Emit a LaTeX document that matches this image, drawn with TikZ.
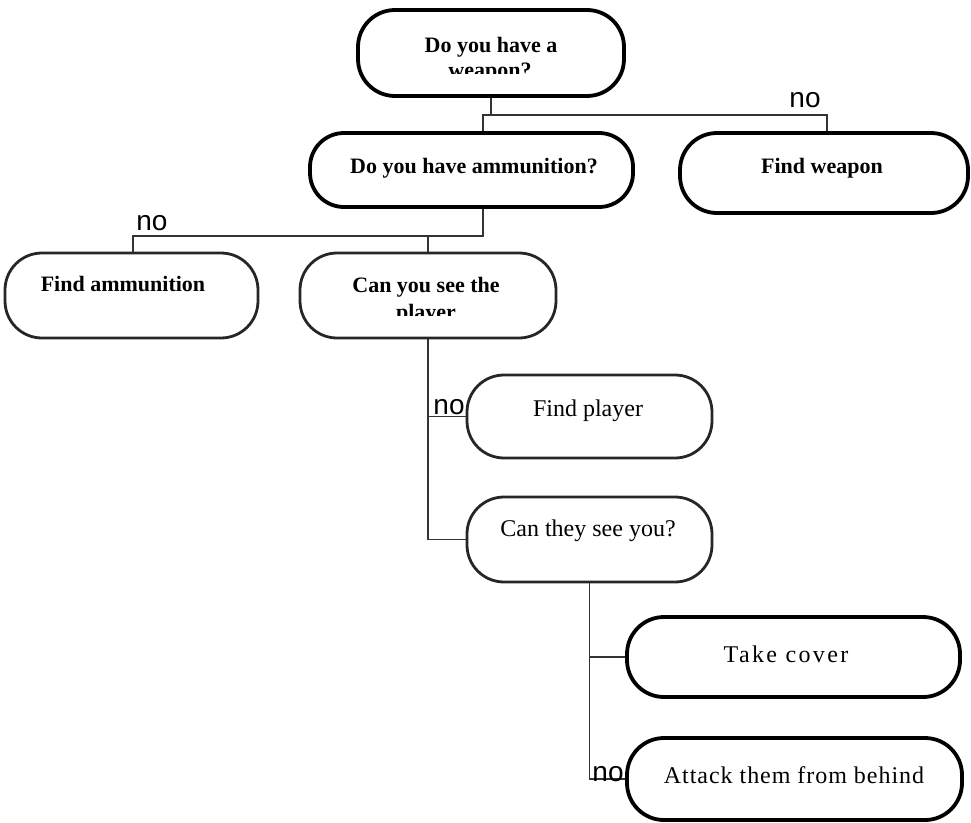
\documentclass[tikz,border=0pt]{standalone}
\usepackage{fontspec}
\setmainfont{Liberation Serif}
\newfontfamily\labelfont{Liberation Sans}
\begin{document}
\begin{tikzpicture}[x=1pt,y=-1pt,
  box/.style={draw=black, line width=3.8pt, rounded corners=#1, inner sep=0pt},
  box/.default=37pt,
  thinbox/.style={box=#1, draw=black!85, line width=2.8pt},
  thinbox/.default=37pt,
  link/.style={draw=black!80, line width=1.3pt},
  qtext/.style={font=\bfseries\fontsize{22}{25}\selectfont, anchor=base, inner sep=0pt},
  atext/.style={font=\fontsize{24}{28}\selectfont, anchor=base, inner sep=0pt},
  nolabel/.style={font=\labelfont\fontsize{28}{30}\selectfont, anchor=base, inner sep=0pt},
]
\useasboundingbox (0,0) rectangle (971,822);

% decision and action boxes
\node[box, minimum width=266pt, minimum height=86pt] (n1) at (491,53) {};
\node[box=34pt, minimum width=323pt, minimum height=74pt] (n2) at (471.5,170) {};
\node[box, minimum width=288pt, minimum height=80pt] (n3) at (824,173) {};
\node[thinbox, minimum width=253pt, minimum height=85pt] (n4) at (131.5,295.5) {};
\node[thinbox, minimum width=256pt, minimum height=85pt] (n5) at (428,295.5) {};
\node[thinbox, minimum width=245pt, minimum height=83pt] (n6) at (589.5,416.5) {};
\node[thinbox, minimum width=245pt, minimum height=85pt] (n7) at (589.5,539.5) {};
\node[box, minimum width=333pt, minimum height=80pt] (n8) at (793.5,657) {};
\node[box, minimum width=335pt, minimum height=82pt] (n9) at (794.5,779) {};

% box texts
\node[qtext] (t1a) at (491,52) {Do you have a};
\begin{scope}
  \clip (400,58) rectangle (580,73);
  \node[qtext] (t1b) at (490,77) {weapon?};
\end{scope}
\node[qtext] (t2) at (474,173) {Do you have ammunition?};
\node[qtext] (t3) at (822,173) {Find weapon};
\node[qtext] (t4) at (123,291) {Find ammunition};
\node[qtext] (t5a) at (426,292) {Can you see the};
\begin{scope}
  \clip (350,298) rectangle (500,315);
  \node[qtext] (t5b) at (426,319) {player};
\end{scope}
\node[atext] (t6) at (588,416) {Find player};
\node[atext] (t7) at (588,536) {Can they see you?};
\node[atext, font=\fontsize{24}{28}\selectfont\addfontfeature{LetterSpace=10}] (t8) at (786,662) {Take cover};
\node[atext, font=\fontsize{24}{28}\selectfont\addfontfeature{LetterSpace=4}] (t9) at (794,783) {Attack them from behind};

% branch junctions
\coordinate (a1) at (483,115);
\coordinate (b1) at (827,115);
\coordinate (a2) at (483,236);
\coordinate (b2) at (133,236);
\coordinate (c2) at (428,236);

% connectors
\draw[link] (n1.south) -- (n1.south |- a1);
\draw[link] (a1 |- n2.north) -- (a1) -- (b1) -- (b1 |- n3.north);
\draw[link] (a2 |- n2.south) -- (a2) -- (b2) -- (b2 |- n4.north);
\draw[link] (c2) -- (c2 |- n5.north);
\draw[link] (n5.south) -- (n5.south |- n7.west) -- (n7.west);
\draw[link] (n5.south |- n6.west) -- (n6.west);
\draw[link] (n7.south) -- (n7.south |- n9.west) -- (n9.west);
\draw[link] (n7.south |- n8.west) -- (n8.west);

% "no" branch labels
\node[nolabel] (no1) at (805,107) {no};
\node[nolabel] (no2) at (152,230) {no};
\node[nolabel] (no3) at (449,414) {no};
\node[nolabel] (no4) at (608,781) {no};
\end{tikzpicture}
\end{document}
